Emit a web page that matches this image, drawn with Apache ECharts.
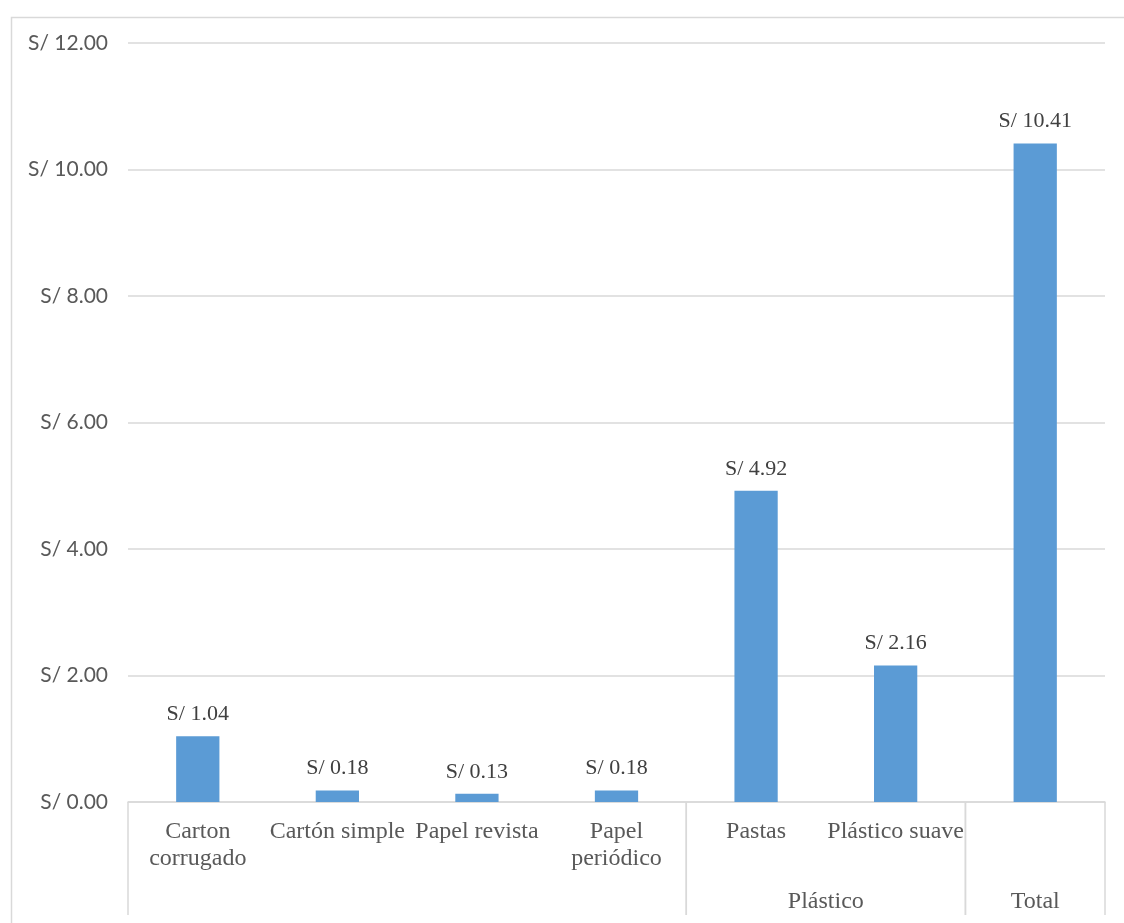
<!DOCTYPE html>
<html>
<head>
<meta charset="utf-8">
<script src="https://cdn.jsdelivr.net/npm/echarts@6/dist/echarts.min.js"></script>
<style>html,body{margin:0;padding:0;background:#fff;}#c{width:1124px;height:923px;}</style>
</head>
<body>
<div id="c"></div>
<script>
var categories = ['Carton\ncorrugado', 'Cartón simple', 'Papel revista', 'Papel\nperiódico', 'Pastas', 'Plástico suave', ''];
var values = [1.04, 0.18, 0.13, 0.18, 4.92, 2.16, 10.41];
var groupNames = ['', 'Plástico', 'Total'];
var groupStart = [0, 4, 6];
var groupEnd = [3, 5, 6];
var yTicks = [0, 2, 4, 6, 8, 10, 12];

var groupData = groupNames.map(function (n, i) { return [groupStart[i], groupEnd[i]]; });
var chart = echarts.init(document.getElementById('c'), null, {renderer: 'canvas'});
var serif = '"Liberation Serif", "DejaVu Serif", serif';
var sans = 'Lato, "Open Sans", "Liberation Sans", sans-serif';
chart.setOption({
  animation: false,
  backgroundColor: '#fff',
  graphic: [{
    type: 'rect', left: 9, top: 15, silent: true,
    shape: {width: 1140, height: 930},
    style: {fill: 'none', stroke: '#d9d9d9', lineWidth: 1.5}
  }],
  grid: {left: 128, right: 19, top: 43, bottom: 121, containLabel: false},
  xAxis: {
    type: 'category',
    data: categories,
    axisLine: {show: true, lineStyle: {color: '#d9d9d9', width: 1.5}},
    axisTick: {show: false},
    axisLabel: {interval: 0, margin: 16, color: '#595959', fontFamily: serif, fontSize: 24, lineHeight: 27}
  },
  yAxis: {
    type: 'value', min: yTicks[0], max: yTicks[yTicks.length - 1], interval: 2,
    axisLine: {show: false}, axisTick: {show: false},
    splitLine: {lineStyle: {color: '#d9d9d9', width: 1.5}},
    axisLabel: {margin: 20, color: '#595959', fontFamily: sans, fontSize: 21,
      formatter: function (v) { return 'S/ ' + v.toFixed(2); }}
  },
  series: [{
    type: 'bar',
    data: values,
    barWidth: '31%',
    itemStyle: {color: '#5B9BD5'},
    label: {show: true, position: 'top', distance: 11, color: '#404040', fontFamily: serif, fontSize: 22,
      formatter: function (p) { return 'S/ ' + p.value.toFixed(2); }}
  }, {
    type: 'custom',
    silent: true,
    clip: false,
    data: groupData,
    encode: {x: 0, y: 1},
    renderItem: function (params, api) {
      var s = api.value(0), e = api.value(1);
      var p0 = api.coord([s, 0]);
      var p1 = api.coord([e, 0]);
      var bw = api.size([1, 0])[0];
      var x0 = p0[0] - bw / 2, x1 = p1[0] + bw / 2;
      var y0 = p0[1], y1 = y0 + 113;
      return {
        type: 'group',
        children: [
          {type: 'line', shape: {x1: x0, y1: y0, x2: x0, y2: y1}, style: {stroke: '#d9d9d9', lineWidth: 1.5}},
          {type: 'line', shape: {x1: x1, y1: y0, x2: x1, y2: y1}, style: {stroke: '#d9d9d9', lineWidth: 1.5}},
          {type: 'text', style: {text: groupNames[params.dataIndex], x: (x0 + x1) / 2, y: y0 + 100,
            align: 'center', verticalAlign: 'middle', fill: '#595959', font: '24px ' + serif}}
        ]
      };
    }
  }]
});
</script>
</body>
</html>
